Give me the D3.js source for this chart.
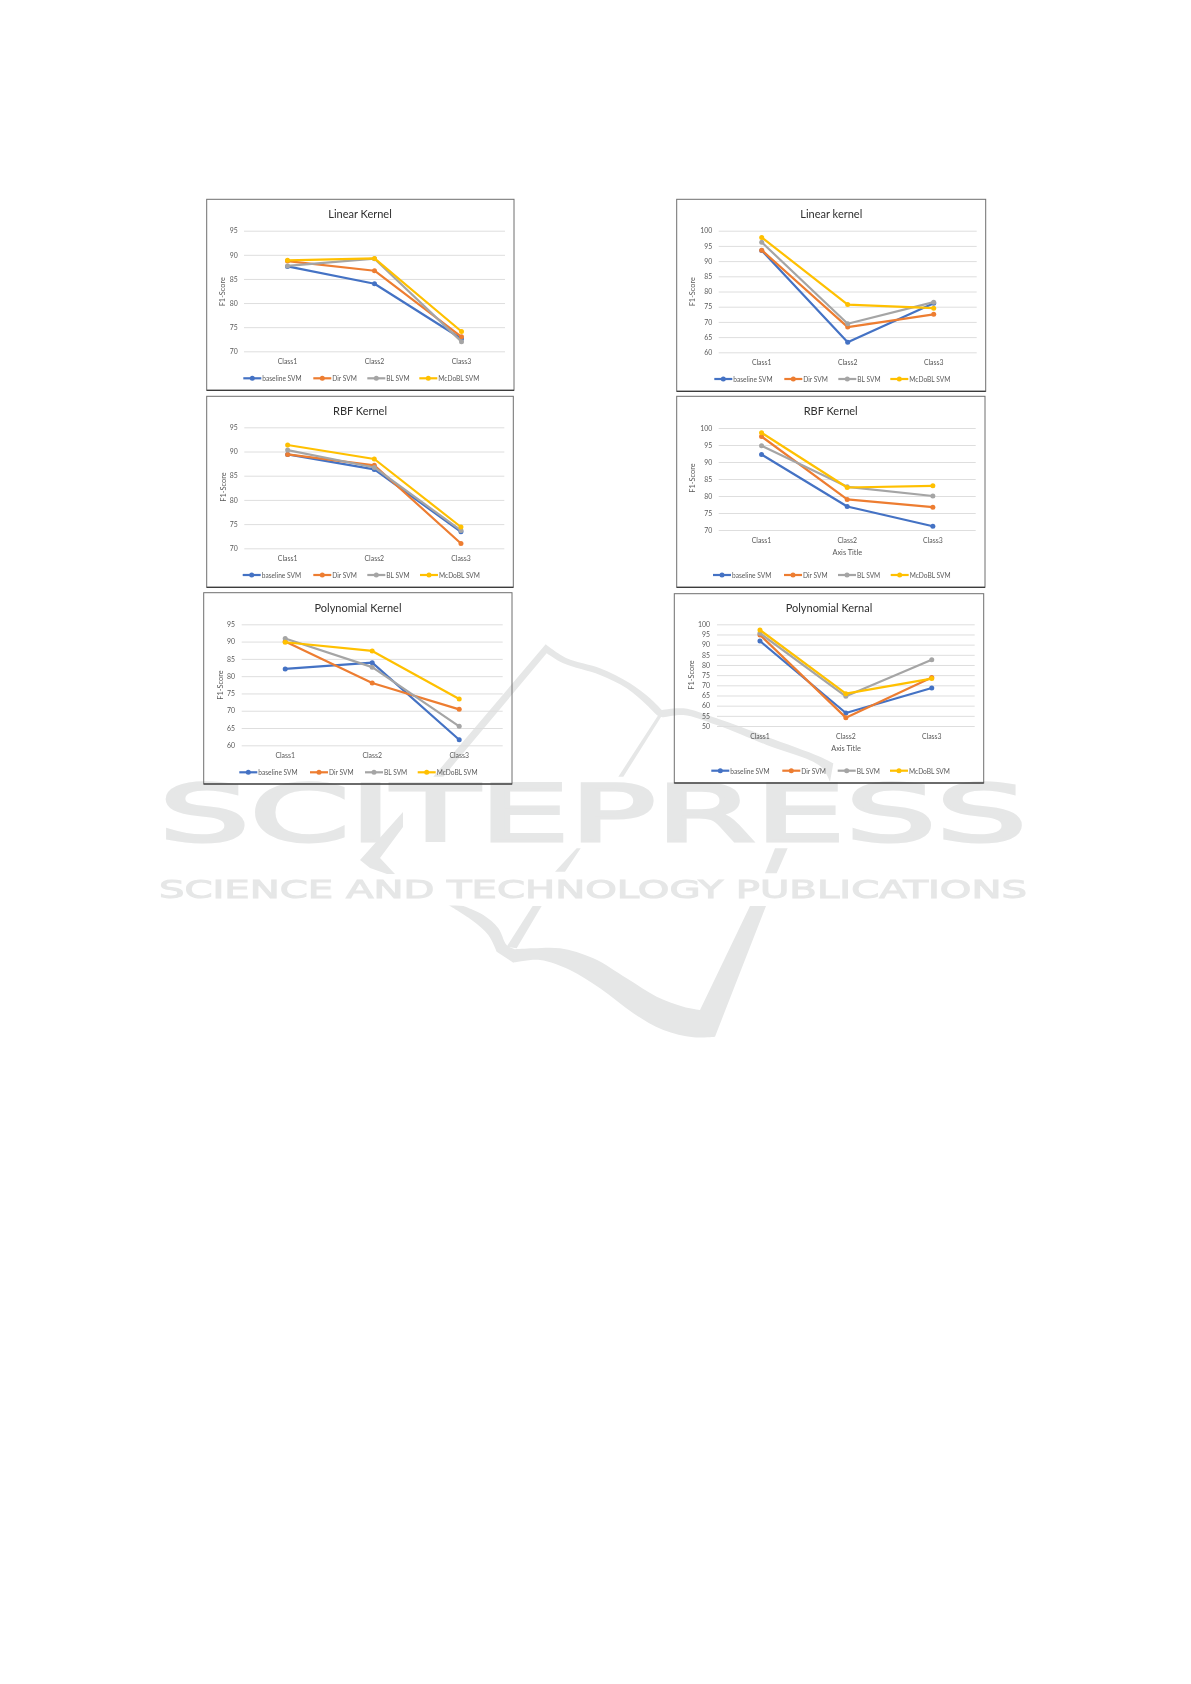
<!DOCTYPE html>
<html><head><meta charset="utf-8">
<script src="https://d3js.org/d3.v7.min.js"></script>
<style>
html,body{margin:0;padding:0;background:#fff;}
svg{display:block;filter:blur(0.4px);}
text{font-family:Lato,"Open Sans",sans-serif;}
</style></head><body>
<svg id="page" width="1191" height="1684"></svg>
<script>
// ---------- data ----------
const categories = ["Class1","Class2","Class3"];
const seriesNames = ["baseline SVM","Dir SVM","BL SVM","McDoBL SVM"];
const seriesColors = ["#4472c4","#ed7d31","#a5a5a5","#ffc000"];

const linearLeft  = [[87.6,84.0,72.6],[88.7,86.7,73.0],[87.7,89.2,72.0],[88.85,89.25,74.1]];
const linearRight = [[93.5,63.3,76.1],[93.6,68.3,72.5],[96.2,69.4,76.5],[97.8,75.7,74.5]];
const rbfLeft     = [[89.4,86.3,73.4],[89.4,87.15,71.0],[90.3,86.7,73.7],[91.35,88.45,74.4]];
const rbfRight    = [[92.2,76.9,71.1],[97.5,79.0,76.7],[94.8,82.7,80.0],[98.6,82.5,83.0]];
const polyLeft    = [[82.1,83.9,61.6],[90.0,78.0,70.4],[90.9,82.6,65.5],[89.8,87.3,73.4]];
const polyRight   = [[91.8,56.4,68.7],[94.8,54.1,73.8],[95.6,64.6,82.6],[97.2,65.9,73.3]];

const ticksLow  = [70,75,80,85,90,95];
const ticksPoly = [60,65,70,75,80,85,90,95];
const ticksHigh = [60,65,70,75,80,85,90,95,100];
const ticksRbf  = [70,75,80,85,90,95,100];
const ticksWide = [50,55,60,65,70,75,80,85,90,95,100];

// ---------- layout ----------
const charts = [
 {title:"Linear Kernel", data:linearLeft, ticks:ticksLow,
  frame:[206.7,199.3,514,390.3], grid:[244,505,230.7,351.3], titlePos:[360,213.7], yLab:[222.3,291.7], tickRight:237.7,
  catY:361, legY:378.3, leg:[243.3,313.3,367.3,419.3]},
 {title:"Linear kernel", data:linearRight, ticks:ticksHigh,
  frame:[676.7,199.3,985.7,391.3], grid:[718.7,976.7,230.7,352.3], titlePos:[831.3,213.3], yLab:[692.7,291.7], tickRight:712.3,
  catY:362, legY:379, leg:[714.3,784.3,838.3,890.3]},
 {title:"RBF Kernel", data:rbfLeft, ticks:ticksLow,
  frame:[206.7,396.3,513.3,587.3], grid:[244.3,504.3,427.3,548.3], titlePos:[360,410], yLab:[223,487], tickRight:237.7,
  catY:558, legY:575, leg:[242.7,313.3,367.3,420]},
 {title:"RBF Kernel", data:rbfRight, ticks:ticksRbf, axisTitle:[847.3,552.7],
  frame:[676.7,396.3,985,587.3], grid:[718.7,975.7,428,530], titlePos:[830.7,410.7], yLab:[692.7,478], tickRight:712.3,
  catY:540.3, legY:575, leg:[713,784,838,890.7]},
 {title:"Polynomial Kernel", data:polyLeft, ticks:ticksPoly,
  frame:[203.7,592.7,512,784], grid:[241.7,502.7,624.3,745.3], titlePos:[358,607], yLab:[220,685], tickRight:235,
  catY:755, legY:772.3, leg:[239.3,310,365,417.7]},
 {title:"Polynomial Kernal", data:polyRight, ticks:ticksWide, axisTitle:[846,748.3],
  frame:[674.3,593.7,983.7,783], grid:[717,974.7,624.3,726], titlePos:[829,607.3], yLab:[691,675], tickRight:710,
  catY:736, legY:770.7, leg:[711.3,782.3,837.7,890]}
];

const svg = d3.select("#page");

// ---------- watermark (sits under the charts) ----------
const wmColor = "#e6e7e7";
const wm = svg.append("g").attr("class","watermark");
const z = ([x,y]) => [400+x/3, 630+y/3];
const poly = pts => "M"+pts.map(p=>p.join(",")).join("L")+"Z";
const spline = d3.line().curve(d3.curveCatmullRom.alpha(0.5));
// joins smooth runs with sharp corners between them
const curvy = runs => runs.map((r,i)=>{
  const d = spline(r.map(z));
  return i ? "L"+d.slice(1) : d;
}).join("")+"Z";

wm.append("path").attr("fill",wmColor).attr("d",curvy([
  [[100,440],[437,43]],
  [[437,43],[500,85],[600,115],[690,160],[750,205],[785,240]],
  [[785,240],[850,235],[950,265],[1100,320],[1260,380],[1300,400]],
  [[1300,400],[1290,455]],
  [[1290,455],[1260,408],[1100,345],[950,285],[850,255],[790,262]],
  [[790,262],[775,258],[740,225],[680,175],[600,135],[490,100],[440,70]],
  [[440,70],[130,440]]
]));
[
 [[775,255],[785,258],[670,440],[655,440]],
 [[550,595],[570,595],[555,620],[548,620]],
 [[530,655],[542,655],[495,725],[465,725]],
 [[398,828],[425,828],[350,955],[320,950]],
 [[1125,655],[1163,655],[1130,730],[1095,730]]
].forEach(p => wm.append("path").attr("fill",wmColor).attr("d",poly(p.map(z))));

wm.append("path").attr("fill",wmColor).attr("d",curvy([
  [[145,825],[215,870],[265,915],[290,965]],
  [[290,965],[340,998]],
  [[340,998],[420,990],[510,1020],[600,1075],[700,1150],[790,1200],[880,1222],[945,1220]],
  [[945,1220],[1098,828]],
  [[1098,828],[1050,828]],
  [[1050,828],[900,1140]],
  [[900,1140],[850,1130],[770,1100],[680,1045],[580,985],[480,955],[400,955],[345,958]],
  [[345,958],[320,945],[295,895],[250,855],[190,828]]
]));
wm.append("path").attr("fill",wmColor)
  .attr("d",poly([[403,812],[360,860],[370,868],[387,874],[395,874],[380,858],[403,827]]));

wm.append("text").text("SCITEPRESS").attr("x",159).attr("y",841)
  .attr("textLength",868).attr("lengthAdjust","spacingAndGlyphs")
  .style("font-family","'DejaVu Sans'").style("font-weight",400).style("font-size","79px")
  .attr("fill",wmColor).attr("stroke",wmColor).attr("stroke-width",3);
wm.append("text").text("SCIENCE AND TECHNOLOGY PUBLICATIONS").attr("x",159).attr("y",898)
  .attr("textLength",868).attr("lengthAdjust","spacingAndGlyphs")
  .style("font-family","'DejaVu Sans'").style("font-weight",400).style("font-size","24.5px")
  .attr("fill",wmColor).attr("stroke",wmColor).attr("stroke-width",1);

// ---------- charts ----------
charts.forEach(c => {
  const g = svg.append("g");
  const [fx0,fy0,fx1,fy1] = c.frame;
  const [gx0,gx1,gyTop,gyBot] = c.grid;
  const x = d3.scaleBand().domain(categories).range([gx0,gx1]);
  const y = d3.scaleLinear().domain([d3.min(c.ticks),d3.max(c.ticks)]).range([gyBot,gyTop]);

  // frame
  g.append("rect").attr("x",fx0).attr("y",fy0).attr("width",fx1-fx0).attr("height",fy1-fy0)
    .attr("fill","none").attr("stroke","#6f6f6f").attr("stroke-width",1);
  g.append("line").attr("x1",fx0).attr("x2",fx1).attr("y1",fy1).attr("y2",fy1)
    .attr("stroke","#222").attr("stroke-width",1.1);

  // title
  g.append("text").text(c.title).attr("x",c.titlePos[0]).attr("y",c.titlePos[1])
    .attr("text-anchor","middle").attr("dominant-baseline","central")
    .style("font-size","11px").attr("fill","#2f2f2f");

  // y axis with gridlines
  const yAxis = d3.axisLeft(y).tickValues(c.ticks).tickSize(-(gx1-gx0)).tickPadding(gx0-c.tickRight);
  const ya = g.append("g").attr("transform",`translate(${gx0},0)`).call(yAxis);
  ya.select(".domain").remove();
  ya.selectAll("line").attr("stroke","#dedede").attr("stroke-width",1);
  ya.selectAll("text").style("font-size","6.9px").style("font-family","Lato").attr("fill","#595959");

  // x axis labels
  const xa = g.append("g").attr("transform",`translate(0,${c.catY})`)
    .call(d3.axisBottom(x).tickSize(0).tickPadding(0));
  xa.select(".domain").remove();
  xa.selectAll("text").attr("dy",0).attr("y",0).attr("dominant-baseline","central")
    .style("font-size","6.9px").style("font-family","Lato").attr("fill","#595959");

  // axis titles
  g.append("text").text("F1-Score")
    .attr("transform",`translate(${c.yLab[0]},${c.yLab[1]}) rotate(-90)`)
    .attr("text-anchor","middle").attr("dominant-baseline","central")
    .style("font-size","7.4px").attr("fill","#595959");
  if (c.axisTitle) g.append("text").text("Axis Title").attr("x",c.axisTitle[0]).attr("y",c.axisTitle[1])
    .attr("text-anchor","middle").attr("dominant-baseline","central")
    .style("font-size","7.4px").attr("fill","#595959");

  // series
  const line = d3.line().x((d,i)=>x(categories[i])+x.bandwidth()/2).y(d=>y(d));
  c.data.forEach((vals,s) => {
    const sg = g.append("g");
    sg.append("path").datum(vals).attr("d",line).attr("fill","none")
      .attr("stroke",seriesColors[s]).attr("stroke-width",2.2).attr("stroke-linejoin","round");
    sg.selectAll("circle").data(vals).join("circle")
      .attr("cx",(d,i)=>x(categories[i])+x.bandwidth()/2).attr("cy",d=>y(d)).attr("r",2.5)
      .attr("fill",seriesColors[s]);
  });

  // legend
  seriesNames.forEach((n,s) => {
    const lx = c.leg[s];
    const lg = g.append("g");
    lg.append("line").attr("x1",lx).attr("x2",lx+18).attr("y1",c.legY).attr("y2",c.legY)
      .attr("stroke",seriesColors[s]).attr("stroke-width",2.2);
    lg.append("circle").attr("cx",lx+9).attr("cy",c.legY).attr("r",2.5).attr("fill",seriesColors[s]);
    lg.append("text").text(n).attr("x",lx+19).attr("y",c.legY).attr("dominant-baseline","central")
      .style("font-size","6.6px").attr("fill","#595959");
  });
});
</script>
</body></html>
